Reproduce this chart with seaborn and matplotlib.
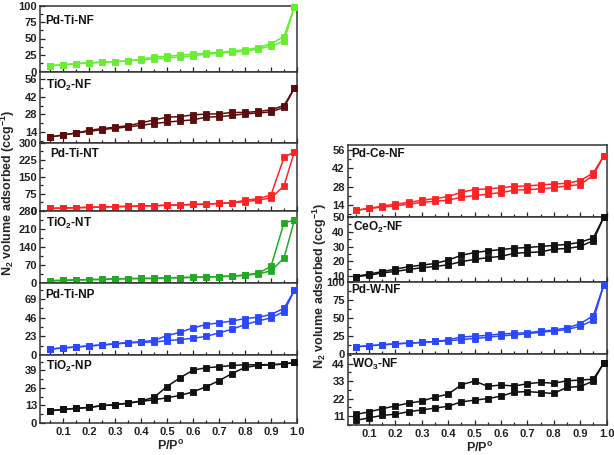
import matplotlib
matplotlib.use("Agg")
import matplotlib.pyplot as plt
import numpy as np
import pandas as pd
import seaborn as sns
from matplotlib.ticker import MultipleLocator, FixedLocator, AutoMinorLocator, NullFormatter

sns.set_style("ticks")
plt.rcParams["font.family"] = ["Liberation Sans", "DejaVu Sans"]
plt.rcParams["font.weight"] = "bold"
plt.rcParams["mathtext.fontset"] = "custom"
plt.rcParams["mathtext.rm"] = "Liberation Sans:bold"
plt.rcParams["mathtext.bf"] = "Liberation Sans:bold"
plt.rcParams["mathtext.default"] = "bf"

# ---- data ----
P = [0.05, 0.1, 0.15, 0.2, 0.25, 0.3, 0.35, 0.4, 0.45, 0.5,
     0.55, 0.6, 0.65, 0.7, 0.75, 0.8, 0.85, 0.9, 0.95, 0.99]

pdtinf_ads = [9, 10, 12, 13, 14, 15, 16, 18, 19, 21, 22, 24, 26, 28, 29, 31, 34, 38.5, 46, 98]
pdtinf_des = [9, 10, 12, 13, 14, 15, 16, 18.5, 22, 23, 25, 26, 28, 29, 31, 33, 36, 42, 53, 98]

tio2nf_ads = [10, 11.6, 13.2, 14.5, 15.9, 17, 18, 19.3, 20.7, 21.8, 22.8, 23.6, 25.8, 26.2, 27.1, 28.4, 29, 30, 33.5, 48.8]
tio2nf_des = [10, 11.6, 13.2, 15.3, 16.7, 17.8, 19, 21.2, 23.6, 25.7, 26.2, 27.6, 28.2, 28.4, 29.5, 29.5, 30.3, 31.6, 35, 48.8]

pdtint_ads = [10, 12, 13, 15, 16, 18, 19, 21, 22, 24, 25, 28, 29, 32, 35, 40, 47, 56, 110, 260]
pdtint_des = [10, 12, 13, 15, 16, 18, 19, 21, 22, 24, 25, 28, 29, 32, 35, 46, 53, 69, 235, 260]

tio2nt_ads = [9, 10, 12, 13, 14, 16, 17, 17.5, 18, 20, 21, 22, 23, 25, 26, 30, 35, 47, 97, 243]
tio2nt_des = [9, 10, 12, 13, 14, 16, 17, 17.5, 18, 20, 21, 22, 23, 25, 27, 31, 38, 64, 233, 243]

pdtinp_ads = [7.4, 8.7, 9.9, 11.2, 12.4, 13.6, 14.9, 15.7, 16, 17.8, 19, 20.7, 23, 27.3, 31.8, 37.6, 42, 45.9, 53.7, 80]
pdtinp_des = [7.4, 8.7, 9.9, 11.2, 12.4, 14, 15.3, 16.5, 18, 24, 28, 33.5, 37.6, 39.7, 42, 45, 46.7, 50, 57.8, 80]

tio2np_ads = [8.9, 9.9, 10.7, 11.4, 12.7, 13.4, 14.6, 15.9, 17.1, 18.6, 20.3, 23, 26.8, 31.3, 36.7, 41.2, 42.7, 43.2, 43.7, 45]
tio2np_des = [8.9, 9.9, 10.7, 11.4, 12.7, 13.4, 14.6, 16.2, 18.9, 27, 33.5, 39.2, 41, 41.7, 42.7, 43.2, 43.2, 43.4, 43.7, 45]

pdcenf_ads = [9.7, 11.2, 12.2, 13.2, 14.5, 15.8, 16.8, 17.5, 19.9, 21.1, 22.2, 23.4, 25.2, 25.7, 26.2, 27.2, 28.5, 29.5, 36.7, 51.8]
pdcenf_des = [9.7, 11.2, 13, 14.5, 15.8, 17.5, 18.8, 20.3, 23.7, 25.7, 26.2, 27.2, 28.2, 28.5, 29.3, 30, 30.5, 32.6, 38.5, 51.8]

ceo2nf_ads = [9.8, 10.6, 12.3, 13.2, 14.6, 15.7, 16.6, 17.7, 19.8, 21.4, 22.5, 23.4, 25.5, 26, 26.4, 28.3, 28.7, 30.1, 34, 50]
ceo2nf_des = [9.8, 11.5, 13.1, 14.8, 16.4, 17.5, 18.6, 20.9, 24.1, 26, 27.1, 28, 28.9, 29.4, 30.1, 30.8, 31.5, 32.9, 35.9, 50]

pdwnf_ads = [10, 11.4, 12.7, 14.1, 15, 16, 17.3, 18.2, 20, 21.4, 23.2, 25, 26.4, 28.2, 30, 31.8, 34, 38.2, 46.8, 96]
pdwnf_des = [10, 11.4, 12.7, 14.1, 15, 16, 17.3, 19.5, 23.6, 24.5, 25.9, 27.7, 28.6, 29.5, 31.4, 33.2, 36, 41.8, 53, 96]

wo3nf_ads = [8.3, 9.9, 11.4, 12.2, 13.7, 14.9, 16, 17.2, 19.9, 21, 22, 23.5, 26, 26.4, 25.8, 25.2, 29.1, 29.5, 33, 44.4]
wo3nf_des = [12, 13.7, 15.6, 17.4, 19.1, 20.4, 22.9, 24.7, 30.7, 33, 29.7, 30.5, 29.9, 31.3, 32.2, 31.6, 33.2, 33.6, 34.2, 44.4]

x_ticks = [0.1, 0.2, 0.3, 0.4, 0.5, 0.6, 0.7, 0.8, 0.9, 1.0]
x_ticklabels = ["0.1", "0.2", "0.3", "0.4", "0.5", "0.6", "0.7", "0.8", "0.9", "1.0"]

left_names = ["Pd-Ti-NF", "TiO$_2$-NF", "Pd-Ti-NT", "TiO$_2$-NT", "Pd-Ti-NP", "TiO$_2$-NP"]
left_series = [(pdtinf_ads, pdtinf_des), (tio2nf_ads, tio2nf_des), (pdtint_ads, pdtint_des),
               (tio2nt_ads, tio2nt_des), (pdtinp_ads, pdtinp_des), (tio2np_ads, tio2np_des)]
left_colors = ["#66ee33", "#5c0c0c", "#ff2424", "#22aa22", "#2a48ff", "#111111"]
left_yticks = [[0, 25, 50, 75, 100], [14, 28, 42, 56], [0, 75, 150, 225, 300],
               [0, 70, 140, 210, 280], [0, 23, 46, 69], [0, 13, 26, 39]]
left_ylims = [(0, 100), (5.5, 62), (0, 300), (0, 280), (0, 89), (0, 50.5)]

right_names = ["Pd-Ce-NF", "CeO$_2$-NF", "Pd-W-NF", "WO$_3$-NF"]
right_series = [(pdcenf_ads, pdcenf_des), (ceo2nf_ads, ceo2nf_des),
                (pdwnf_ads, pdwnf_des), (wo3nf_ads, wo3nf_des)]
right_colors = ["#ff2424", "#111111", "#2a48ff", "#111111"]
right_yticks = [[14, 28, 42, 56], [10, 20, 30, 40, 50], [0, 25, 50, 75, 100], [11, 22, 33, 44]]
right_ylims = [(4.6, 60), (6.3, 50), (0, 100), (5.4, 50)]

# ---- layout (pixel boundaries) ----
W, H = 614, 455
fig = plt.figure(figsize=(W / 100, H / 100), dpi=100)

left_bounds = [5.5, 71.5, 142.7, 210.7, 283, 355, 422.7]
right_bounds = [145, 217, 281.7, 354, 425]
left_x = (40, 297)
right_x = (347.5, 606.5)


def make_axes(xr, bounds):
    axs = []
    for i in range(len(bounds) - 1):
        top, bot = bounds[i], bounds[i + 1]
        ax = fig.add_axes([xr[0] / W, 1 - bot / H, (xr[1] - xr[0]) / W, (bot - top) / H])
        axs.append(ax)
    return axs


def draw_column(axs, names, series, colors, yticks, ylims, xlim, label_pos):
    for k, ax in enumerate(axs):
        ads, des = series[k]
        df = pd.DataFrame({"P": P * 2, "V": list(ads) + list(des),
                           "branch": ["ads"] * len(P) + ["des"] * len(P)})
        for br in ["ads", "des"]:
            sub = df[df["branch"] == br]
            sns.lineplot(data=sub, x="P", y="V", ax=ax, color=colors[k], marker="s",
                         markersize=4.8, markeredgecolor=colors[k], markeredgewidth=0.6,
                         linewidth=1.1, estimator=None, sort=False, legend=False,
                         clip_on=False, zorder=3)
        ax.set_xlim(*xlim)
        ax.set_ylim(*ylims[k])
        ax.yaxis.set_major_locator(FixedLocator(yticks[k]))
        ax.yaxis.set_minor_locator(AutoMinorLocator(2))
        ax.xaxis.set_major_locator(FixedLocator(x_ticks))
        ax.xaxis.set_minor_locator(MultipleLocator(0.05))
        ax.tick_params(which="both", direction="in", width=0.9, colors="#222222",
                       labelsize=8, pad=2)
        ax.tick_params(which="major", length=3.5)
        ax.tick_params(which="minor", length=2)
        ax.tick_params(axis="x", pad=3)
        for lab in ax.get_yticklabels():
            lab.set_fontweight("bold")
        if k == len(axs) - 1:
            ax.set_xticklabels(x_ticklabels, fontweight="bold", fontsize=8)
        else:
            ax.xaxis.set_major_formatter(NullFormatter())
        ax.set_xlabel("")
        ax.set_ylabel("")
        for sp in ax.spines.values():
            sp.set_visible(True)
            sp.set_linewidth(1.1)
            sp.set_color("#333333")
        lx, ly = label_pos[k]
        ax.text(lx, ly, names[k], transform=ax.transAxes, fontsize=8.5,
                fontweight="bold", ha="left", va="center", color="#111111", zorder=5)


lax = make_axes(left_x, left_bounds)
rax = make_axes(right_x, right_bounds)

draw_column(lax, left_names, left_series, left_colors, left_yticks, left_ylims,
            (0.0115, 1.0),
            [(0.022, 0.77), (0.022, 0.81), (0.04, 0.83), (0.022, 0.83), (0.022, 0.84), (0.022, 0.83)])
draw_column(rax, right_names, right_series, right_colors, right_yticks, right_ylims,
            (0.0186, 1.0),
            [(0.013, 0.87), (0.02, 0.84), (0.013, 0.88), (0.017, 0.85)])

# axis titles
fig.text(8 / W, 1 - 193 / H, "N$_2$ volume adsorbed (ccg$^{-1}$)", rotation=90,
         ha="center", va="center", fontsize=9, fontweight="bold")
fig.text(320 / W, 1 - 286 / H, "N$_2$ volume adsorbed (ccg$^{-1}$)", rotation=90,
         ha="center", va="center", fontsize=9, fontweight="bold")
fig.text(171 / W, 1 - 446 / H, "P/P$^{o}$", ha="center", va="center",
         fontsize=9, fontweight="bold")
fig.text(480 / W, 1 - 447.5 / H, "P/P$^{o}$", ha="center", va="center",
         fontsize=9, fontweight="bold")

fig.savefig("out.png", dpi=100)
